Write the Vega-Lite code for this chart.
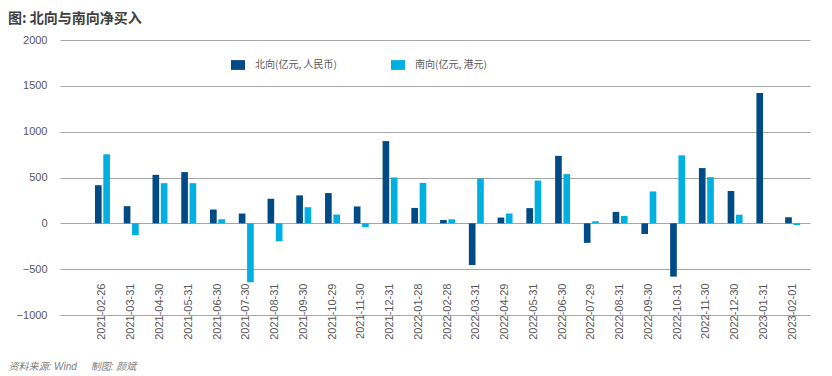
{
  "$schema": "https://vega.github.io/schema/vega-lite/v6.json",
  "autosize": "none",
  "width": 750,
  "height": 275,
  "padding": {"left": 60, "top": 40, "right": 22, "bottom": 61},
  "background": "white",
  "config": {
    "font": "Liberation Sans, Noto Sans CJK SC, sans-serif",
    "view": {"stroke": null}
  },
  "title": {
    "text": "图: 北向与南向净买入",
    "anchor": "start",
    "frame": "group",
    "dx": -52,
    "offset": 8,
    "fontSize": 14,
    "fontWeight": "bold",
    "color": "#404040",
    "font": "Noto Sans CJK SC"
  },
  "data": {
    "values": [
      {"date": "2021-02-26", "series": "北向(亿元, 人民币)", "value": 416},
      {"date": "2021-02-26", "series": "南向(亿元, 港元)", "value": 753},
      {"date": "2021-03-31", "series": "北向(亿元, 人民币)", "value": 187},
      {"date": "2021-03-31", "series": "南向(亿元, 港元)", "value": -129},
      {"date": "2021-04-30", "series": "北向(亿元, 人民币)", "value": 529},
      {"date": "2021-04-30", "series": "南向(亿元, 港元)", "value": 438},
      {"date": "2021-05-31", "series": "北向(亿元, 人民币)", "value": 559},
      {"date": "2021-05-31", "series": "南向(亿元, 港元)", "value": 438},
      {"date": "2021-06-30", "series": "北向(亿元, 人民币)", "value": 151},
      {"date": "2021-06-30", "series": "南向(亿元, 港元)", "value": 44},
      {"date": "2021-07-30", "series": "北向(亿元, 人民币)", "value": 107},
      {"date": "2021-07-30", "series": "南向(亿元, 港元)", "value": -643},
      {"date": "2021-08-31", "series": "北向(亿元, 人民币)", "value": 268},
      {"date": "2021-08-31", "series": "南向(亿元, 港元)", "value": -196},
      {"date": "2021-09-30", "series": "北向(亿元, 人民币)", "value": 305},
      {"date": "2021-09-30", "series": "南向(亿元, 港元)", "value": 176},
      {"date": "2021-10-29", "series": "北向(亿元, 人民币)", "value": 330},
      {"date": "2021-10-29", "series": "南向(亿元, 港元)", "value": 96},
      {"date": "2021-11-30", "series": "北向(亿元, 人民币)", "value": 184},
      {"date": "2021-11-30", "series": "南向(亿元, 港元)", "value": -42},
      {"date": "2021-12-31", "series": "北向(亿元, 人民币)", "value": 897},
      {"date": "2021-12-31", "series": "南向(亿元, 港元)", "value": 500},
      {"date": "2022-01-28", "series": "北向(亿元, 人民币)", "value": 168},
      {"date": "2022-01-28", "series": "南向(亿元, 港元)", "value": 441},
      {"date": "2022-02-28", "series": "北向(亿元, 人民币)", "value": 36},
      {"date": "2022-02-28", "series": "南向(亿元, 港元)", "value": 44},
      {"date": "2022-03-31", "series": "北向(亿元, 人民币)", "value": -455},
      {"date": "2022-03-31", "series": "南向(亿元, 港元)", "value": 489},
      {"date": "2022-04-29", "series": "北向(亿元, 人民币)", "value": 63},
      {"date": "2022-04-29", "series": "南向(亿元, 港元)", "value": 107},
      {"date": "2022-05-31", "series": "北向(亿元, 人民币)", "value": 166},
      {"date": "2022-05-31", "series": "南向(亿元, 港元)", "value": 467},
      {"date": "2022-06-30", "series": "北向(亿元, 人民币)", "value": 736},
      {"date": "2022-06-30", "series": "南向(亿元, 港元)", "value": 537},
      {"date": "2022-07-29", "series": "北向(亿元, 人民币)", "value": -213},
      {"date": "2022-07-29", "series": "南向(亿元, 港元)", "value": 22},
      {"date": "2022-08-31", "series": "北向(亿元, 人民币)", "value": 125},
      {"date": "2022-08-31", "series": "南向(亿元, 港元)", "value": 81},
      {"date": "2022-09-30", "series": "北向(亿元, 人民币)", "value": -116},
      {"date": "2022-09-30", "series": "南向(亿元, 港元)", "value": 348},
      {"date": "2022-10-31", "series": "北向(亿元, 人民币)", "value": -581},
      {"date": "2022-10-31", "series": "南向(亿元, 港元)", "value": 742},
      {"date": "2022-11-30", "series": "北向(亿元, 人民币)", "value": 603},
      {"date": "2022-11-30", "series": "南向(亿元, 港元)", "value": 504},
      {"date": "2022-12-30", "series": "北向(亿元, 人民币)", "value": 353},
      {"date": "2022-12-30", "series": "南向(亿元, 港元)", "value": 94},
      {"date": "2023-01-31", "series": "北向(亿元, 人民币)", "value": 1422},
      {"date": "2023-01-31", "series": "南向(亿元, 港元)", "value": 3},
      {"date": "2023-02-01", "series": "北向(亿元, 人民币)", "value": 66},
      {"date": "2023-02-01", "series": "南向(亿元, 港元)", "value": -20}
    ]
  },
  "mark": {"type": "bar"},
  "encoding": {
    "x": {
      "field": "date",
      "type": "nominal",
      "sort": null,
      "scale": {"paddingInner": 0.48, "paddingOuter": 0.78, "align": 0.78},
      "axis": {
        "orient": "bottom",
        "offset": -35,
        "domain": false,
        "ticks": false,
        "grid": false,
        "labelAngle": -90,
        "labelPadding": 3,
        "labelFontSize": 11,
        "labelColor": "#595959",
        "title": "资料来源: Wind\u00a0\u00a0\u00a0\u00a0\u00a0制图: 颜斌",
        "titleX": -52,
        "titleY": 86,
        "titleAlign": "left",
        "titleAnchor": null,
        "titleBaseline": "middle",
        "titleAngle": 0,
        "titleFontSize": 10,
        "titleFontWeight": "normal",
        "titleFontStyle": "italic",
        "titleColor": "#808080"
      }
    },
    "xOffset": {
      "field": "series",
      "type": "nominal",
      "scale": {"domain": ["北向(亿元, 人民币)", "南向(亿元, 港元)"], "paddingInner": 0.2}
    },
    "y": {
      "field": "value",
      "type": "quantitative",
      "scale": {"domain": [-1000, 2000], "nice": false},
      "axis": {
        "values": [-1000, -500, 0, 500, 1000, 1500, 2000],
        "format": "d",
        "title": null,
        "domain": false,
        "ticks": false,
        "grid": true,
        "gridColor": "#a6a6a6",
        "gridWidth": 1,
        "labelPadding": 13,
        "labelFontSize": 11,
        "labelColor": "#595959"
      }
    },
    "color": {
      "field": "series",
      "type": "nominal",
      "scale": {"domain": ["北向(亿元, 人民币)", "南向(亿元, 港元)"], "range": ["#004a85", "#00b0e0"]},
      "legend": {
        "title": null,
        "orient": "none",
        "legendX": 171,
        "legendY": 18,
        "direction": "horizontal",
        "columns": 2,
        "columnPadding": 54,
        "padding": 0,
        "symbolType": "M-1,-0.7H1V0.7H-1Z",
        "symbolSize": 196,
        "symbolStrokeWidth": 0,
        "symbolOpacity": 1,
        "labelOffset": 10,
        "labelFontSize": 10,
        "labelColor": "#595959",
        "labelFont": "Noto Sans CJK SC"
      }
    }
  }
}
